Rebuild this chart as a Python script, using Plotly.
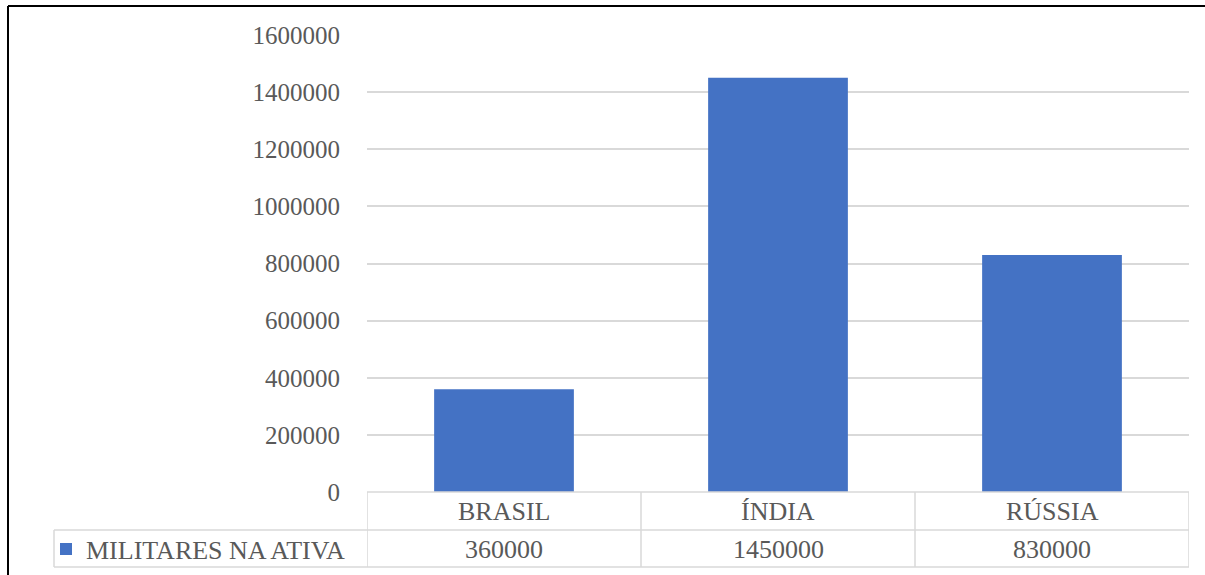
import plotly.graph_objects as go

categories = ["BRASIL", "ÍNDIA", "RÚSSIA"]
values = [360000, 1450000, 830000]
series_name = "MILITARES NA ATIVA"
y_ticks = [0, 200000, 400000, 600000, 800000, 1000000, 1200000, 1400000, 1600000]

W, H = 1205, 575
L, R, T, B = 367, 16, 35, 83
pw, ph = W - L - R, H - T - B

def px_x(x):
    return (x - L) / pw

def px_y(y):
    return (H - B - y) / ph

TEXT = "#595959"
GRID = "#D9D9D9"
FONT = "Liberation Serif"
FS_AX = 25
FS_TB = 26

fig = go.Figure()
fig.add_trace(go.Bar(
    x=categories, y=values, name=series_name,
    marker=dict(color="#4472C4", line=dict(width=0)),
    showlegend=True,
))

row1_bot = px_y(530)
row2_bot = px_y(567)
left_cell = px_x(54)

shapes = []
line = dict(color=GRID, width=1.5)
for i in range(len(categories) + 1):
    shapes.append(dict(type="line", xref="x", yref="paper", x0=i - 0.5, x1=i - 0.5,
                       y0=0, y1=row2_bot, line=line))
shapes.append(dict(type="line", xref="paper", yref="paper", x0=0, x1=1, y0=0, y1=0, line=line))
shapes.append(dict(type="line", xref="paper", yref="paper", x0=left_cell, x1=1,
                   y0=row1_bot, y1=row1_bot, line=line))
shapes.append(dict(type="line", xref="paper", yref="paper", x0=left_cell, x1=1,
                   y0=row2_bot, y1=row2_bot, line=line))
shapes.append(dict(type="line", xref="paper", yref="paper", x0=left_cell, x1=left_cell,
                   y0=row1_bot, y1=row2_bot, line=line))
bx, by = px_x(8), px_y(6)
shapes.append(dict(type="line", xref="paper", yref="paper", x0=bx, x1=px_x(W + 5),
                   y0=by, y1=by, line=dict(color="black", width=2)))
shapes.append(dict(type="line", xref="paper", yref="paper", x0=bx, x1=bx,
                   y0=by, y1=px_y(H + 5), line=dict(color="black", width=2)))

annotations = []
for c, v in zip(categories, values):
    annotations.append(dict(x=c, xref="x", y=px_y(511), yref="paper", text=c, showarrow=False,
                            font=dict(family=FONT, size=FS_TB, color=TEXT), xanchor="center", yanchor="middle"))
    annotations.append(dict(x=c, xref="x", y=px_y(549), yref="paper", text=str(v), showarrow=False,
                            font=dict(family=FONT, size=FS_TB, color=TEXT), xanchor="center", yanchor="middle"))

fig.update_layout(
    width=W, height=H,
    margin=dict(l=L, r=R, t=T, b=B, autoexpand=False),
    paper_bgcolor="white", plot_bgcolor="white",
    font=dict(family=FONT, size=FS_AX, color=TEXT),
    bargap=0.49,
    shapes=shapes, annotations=annotations,
    legend=dict(x=px_x(46), y=px_y(549), xanchor="left", yanchor="middle",
                font=dict(family=FONT, size=FS_TB, color=TEXT), bgcolor="rgba(0,0,0,0)",
                itemwidth=30),
    xaxis=dict(range=[-0.5, 2.5], showticklabels=False, showgrid=False, zeroline=False,
               showline=False, ticks=""),
    yaxis=dict(range=[0, 1600000], tickvals=y_ticks, tickformat="d", showgrid=True,
               gridcolor=GRID, gridwidth=1.5, zeroline=False, showline=False,
               ticks="", ticklabelstandoff=26,
               tickfont=dict(family=FONT, size=FS_AX, color=TEXT)),
)

fig.write_html("out.html", config={"displayModeBar": False},
               post_script="document.body.style.margin='0';")
